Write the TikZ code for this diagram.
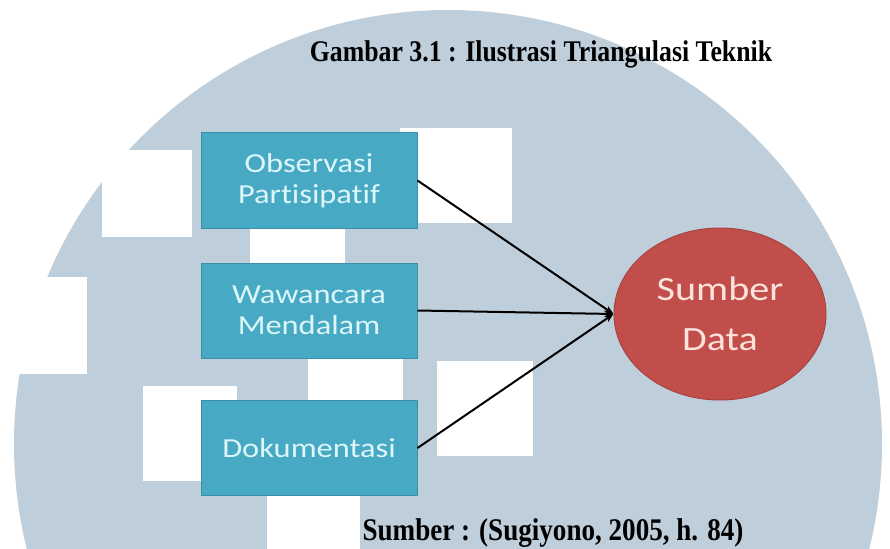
\documentclass[tikz,border=0pt]{standalone}
\usepackage{fontspec}
\setmainfont{Liberation Serif}
\newfontfamily\capfont[FakeStretch=0.86]{Liberation Serif}
\newfontfamily\calfont[FakeStretch=1.18,Ligatures=NoCommon]{Carlito}
\usetikzlibrary{shapes.geometric,arrows.meta}
\definecolor{bgc}{HTML}{BFCEDB}
\definecolor{boxc}{HTML}{48A9C5}
\definecolor{boxline}{HTML}{3B8FA9}
\definecolor{boxtext}{HTML}{DDF6FA}
\definecolor{redc}{HTML}{C24E4B}
\definecolor{redline}{HTML}{A84240}
\definecolor{redtext}{HTML}{FBE3DC}
\begin{document}
\begin{tikzpicture}[x=1pt,y=-1pt,
  techbox/.style={draw=boxline, line width=1pt, fill=boxc, minimum width=216pt, minimum height=95pt, inner sep=0pt, text=boxtext, align=center, font=\calfont\fontsize{27.5}{31}\selectfont},
  srcell/.style={ellipse, draw=redline, line width=1pt, fill=redc, minimum width=212pt, minimum height=172pt, inner sep=0pt, text=redtext, align=center, font=\calfont\fontsize{34}{50}\selectfont},
  link/.style={draw=black, line width=2pt, -{Stealth[length=9pt,width=7pt]}},
  captext/.style={font=\capfont\bfseries\fontsize{30}{36}\selectfont, text=black, inner sep=0pt, anchor=base},
  whitesq/.style={fill=white}
]
\useasboundingbox (0,0) rectangle (890,548);
\begin{scope}
\clip (0,0) rectangle (890,548);
\fill[bgc] (448,444) circle[radius=434pt];
\fill[whitesq] (102,150) rectangle (192,237);
\fill[whitesq] (400,128) rectangle (512,223);
\fill[whitesq] (250,225) rectangle (345,270);
\fill[whitesq] (-5,277) rectangle (87,374);
\fill[whitesq] (143,386) rectangle (237,481);
\fill[whitesq] (308,355) rectangle (403,405);
\fill[whitesq] (437,361) rectangle (533,456);
\fill[whitesq] (267,496) rectangle (360,560);
\end{scope}

\node[captext] (title) at (541,62) {Gambar 3.1 : Ilustrasi Triangulasi Teknik};

\node[techbox] (obs) at (309,180.5) {Observasi\\Partisipatif};
\node[techbox] (waw) at (309,310.5) {Wawancara\\Mendalam};
\node[techbox] (dok) at (309,448) {Dokumentasi};

\node[srcell] (sd) at (720,314) {Sumber\\Data};

\draw[link] (obs.east) -- (sd.west);
\draw[link] (waw.east) -- (sd.west);
\draw[link] (dok.east) -- (sd.west);

\node[captext, font=\capfont\bfseries\fontsize{31.5}{36}\selectfont] (src) at (553,540) {Sumber : (Sugiyono, 2005, h. 84)};
\end{tikzpicture}
\end{document}
